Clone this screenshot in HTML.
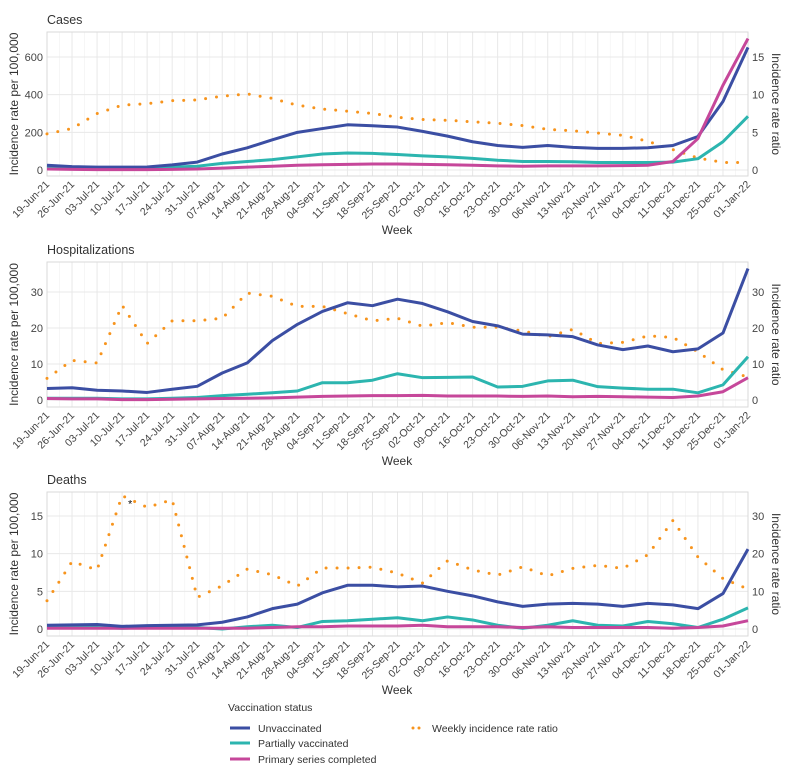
<!DOCTYPE html>
<html><head><meta charset="utf-8"><style>
body{margin:0;background:#fff;}
svg{display:block;font-family:"Liberation Sans",sans-serif;}
</style></head><body>
<svg id="c" width="792" height="769" xmlns="http://www.w3.org/2000/svg"></svg>
<script>
const weeks=["19-Jun-21","26-Jun-21","03-Jul-21","10-Jul-21","17-Jul-21","24-Jul-21","31-Jul-21","07-Aug-21","14-Aug-21","21-Aug-21","28-Aug-21","04-Sep-21","11-Sep-21","18-Sep-21","25-Sep-21","02-Oct-21","09-Oct-21","16-Oct-21","23-Oct-21","30-Oct-21","06-Nov-21","13-Nov-21","20-Nov-21","27-Nov-21","04-Dec-21","11-Dec-21","18-Dec-21","25-Dec-21","01-Jan-22"];
const casesUnvax=[25,18,15,15,16,27,42,85,118,160,200,220,240,235,228,205,180,150,130,120,130,120,115,115,118,130,178,364,651];
const casesPartial=[15,10,8,8,10,15,20,35,45,55,70,85,90,88,82,75,70,62,52,45,45,44,40,40,40,42,60,150,285];
const casesPrimary=[5,3,2,2,2,3,5,10,15,20,25,28,30,32,32,30,28,25,22,20,22,22,22,23,25,45,167,450,698];
const casesRatio=[4.8,5.5,7.5,8.6,8.8,9.2,9.3,9.8,10.1,9.5,8.6,8.1,7.8,7.5,7.0,6.7,6.6,6.4,6.2,5.9,5.4,5.2,4.9,4.6,3.8,2.7,1.6,1.0,1.0];
const hospUnvax=[3.2,3.4,2.7,2.5,2.1,3.0,3.8,7.5,10.3,16.5,21,24.6,27,26.2,28,26.8,24.5,21.8,20.6,18.3,18.1,17.6,15.3,14,15,13.4,14.2,18.6,36.5];
const hospPartial=[0.5,0.5,0.5,0.3,0.3,0.5,0.7,1.2,1.6,2.0,2.5,4.8,4.8,5.5,7.3,6.2,6.3,6.4,3.6,3.8,5.3,5.5,3.7,3.3,3.0,3.0,2.0,4.2,12];
const hospPrimary=[0.4,0.3,0.3,0.1,0.1,0.2,0.3,0.4,0.5,0.6,0.8,1.0,1.1,1.2,1.2,1.3,1.1,1.1,1.1,1.0,1.1,0.9,1.0,0.9,0.8,0.7,1.1,2.3,6.2];
const hospRatio=[6,11,10.3,26.3,15.7,22,22,22.7,29.7,28.8,26,26,24,22,22.7,20.5,21.5,20.2,20.2,19.2,17.6,19.6,15.7,16,17.8,17.4,13.4,8.4,6.4];
const deathUnvax=[0.5,0.55,0.6,0.35,0.45,0.5,0.55,0.9,1.6,2.7,3.3,4.8,5.8,5.8,5.6,5.7,5.0,4.4,3.6,3.0,3.3,3.4,3.3,3.0,3.4,3.2,2.7,4.7,10.6];
const deathPartial=[0.2,0.2,0.2,0.1,0.2,0.2,0.2,0,0.3,0.5,0.2,1.0,1.1,1.3,1.5,1.1,1.6,1.2,0.5,0.1,0.5,1.1,0.5,0.4,1.0,0.7,0.2,1.3,2.8];
const deathPrimary=[0.1,0.1,0.1,0.1,0.1,0.1,0.1,0.1,0.1,0.2,0.3,0.3,0.4,0.4,0.4,0.5,0.3,0.3,0.3,0.2,0.3,0.2,0.2,0.2,0.2,0.1,0.2,0.4,1.1];
const deathRatio=[7.5,17.9,15.7,35.4,32.3,34.3,8.4,11.5,15.9,14.4,11.4,16.2,16.2,16.4,14.8,12.2,18.1,15.7,14.3,16.5,14.1,16.1,16.9,16.1,19.7,28.8,19.1,13.4,10.6];
const casesTicksL=[0,200,400,600], casesTicksR=[0,5,10,15];
const hospTicksL=[0,10,20,30], hospTicksR=[0,10,20,30];
const deathTicksL=[0,5,10,15], deathTicksR=[0,10,20,30];

const NS="http://www.w3.org/2000/svg", svg=document.getElementById('c');
function mk(t,a,p){const e=document.createElementNS(NS,t);for(const k in a)e.setAttribute(k,a[k]);(p||svg).appendChild(e);return e;}
const X0=47,X1=748;
function xs(i){return X0+(X1-X0)*i/(weeks.length-1);}
const COL={u:"#3b4ea3",p:"#2cb5af",c:"#c6479a",r:"#f7941d"};
function panel(name,title,top,bot,y0,perUnit,rf,tl,tr,series,ratio,star){
  const g=mk('g',{});
  
  
  const ys=v=>y0-v*perUnit, yr=v=>y0-v*rf*perUnit;
  const t=mk('text',{x:X0,y:top-8,'font-size':12.5,fill:'#333'},g);t.textContent=title;
  
  for(let i=0;i<weeks.length-1;i++){mk('line',{x1:(xs(i)+xs(i+1))/2,x2:(xs(i)+xs(i+1))/2,y1:top,y2:bot,stroke:'#f4f4f4','stroke-width':0.8},g);}
  weeks.forEach((w,i)=>mk('line',{x1:xs(i),x2:xs(i),y1:top,y2:bot,stroke:'#e8e8e8','stroke-width':1},g));
  tl.forEach(v=>{mk('line',{x1:X0,x2:X1,y1:ys(v),y2:ys(v),stroke:'#e8e8e8'},g);
    const l=mk('text',{x:X0-4,y:ys(v)+4,'font-size':11,'text-anchor':'end',fill:'#444'},g);l.textContent=v;
    });
  tr.forEach(v=>{const l=mk('text',{x:X1+4,y:yr(v)+4,'font-size':11,fill:'#444'},g);l.textContent=v;
    });
  mk('rect',{x:X0,y:top,width:X1-X0,height:bot-top,fill:'none',stroke:'#d9d9d9'},g);
  weeks.forEach((w,i)=>{const l=mk('text',{x:xs(i)+3,y:bot+9,'font-size':10.5,'text-anchor':'end',fill:'#444',transform:`rotate(-45 ${xs(i)+3} ${bot+9})`},g);l.textContent=w;
    });
  const cy=(top+bot)/2;
  const a=mk('text',{x:18,y:cy,'font-size':12,'text-anchor':'middle',fill:'#333',transform:`rotate(-90 18 ${cy})`},g);a.textContent='Incidence rate per 100,000';
  
  const b=mk('text',{x:772,y:cy,'font-size':12,'text-anchor':'middle',fill:'#333',transform:`rotate(90 772 ${cy})`},g);b.textContent='Incidence rate ratio';
  
  const wk=mk('text',{x:397,y:bot+58,'font-size':12,'text-anchor':'middle',fill:'#333'},g);wk.textContent='Week';
  
  const rp=mk('polyline',{points:ratio.map((v,i)=>xs(i)+','+yr(v)).join(' '),fill:'none',stroke:COL.r,'stroke-width':3,'stroke-dasharray':'0 11','stroke-linecap':'round'},g);
  
  series.forEach(([k,arr,n])=>{const p=mk('polyline',{points:arr.map((v,i)=>xs(i)+','+ys(v)).join(' '),fill:'none',stroke:COL[k],'stroke-width':3,'stroke-linejoin':'round'},g);
    });
  if(star){const s=mk('text',{x:xs(star)+3,y:yr(ratio[3])+12,'font-size':11,'text-anchor':'middle',fill:'#111'},g);s.textContent='*';
    }
}
panel('cases','Cases',32,176,170,113/600,40,casesTicksL,casesTicksR,[['p',casesPartial,'partial'],['u',casesUnvax,'unvaccinated'],['c',casesPrimary,'primary']],casesRatio);
panel('hosp','Hospitalizations',262,407,400,3.6,1,hospTicksL,hospTicksR,[['p',hospPartial,'partial'],['c',hospPrimary,'primary'],['u',hospUnvax,'unvaccinated']],hospRatio);
panel('deaths','Deaths',492,636,629,113/15,0.5,deathTicksL,deathTicksR,[['p',deathPartial,'partial'],['c',deathPrimary,'primary'],['u',deathUnvax,'unvaccinated']],deathRatio,3.2);
// legend
const lg=mk('g',{});

const lt=mk('text',{x:228,y:711,'font-size':10.5,fill:'#333'},lg);lt.textContent='Vaccination status';
[['u','Unvaccinated',728],['p','Partially vaccinated',743],['c','Primary series completed',759]].forEach(([k,n,y])=>{
  mk('line',{x1:230,x2:250,y1:y,y2:y,stroke:COL[k],'stroke-width':3},lg);
  const t=mk('text',{x:258,y:y+4,'font-size':10.5,fill:'#333'},lg);t.textContent=n;
  });
mk('line',{x1:413,x2:425,y1:728,y2:728,stroke:COL.r,'stroke-width':3,'stroke-dasharray':'0 6','stroke-linecap':'round'},lg);
const rt=mk('text',{x:432,y:732,'font-size':10.5,fill:'#333'},lg);rt.textContent='Weekly incidence rate ratio';

</script>
</body></html>
